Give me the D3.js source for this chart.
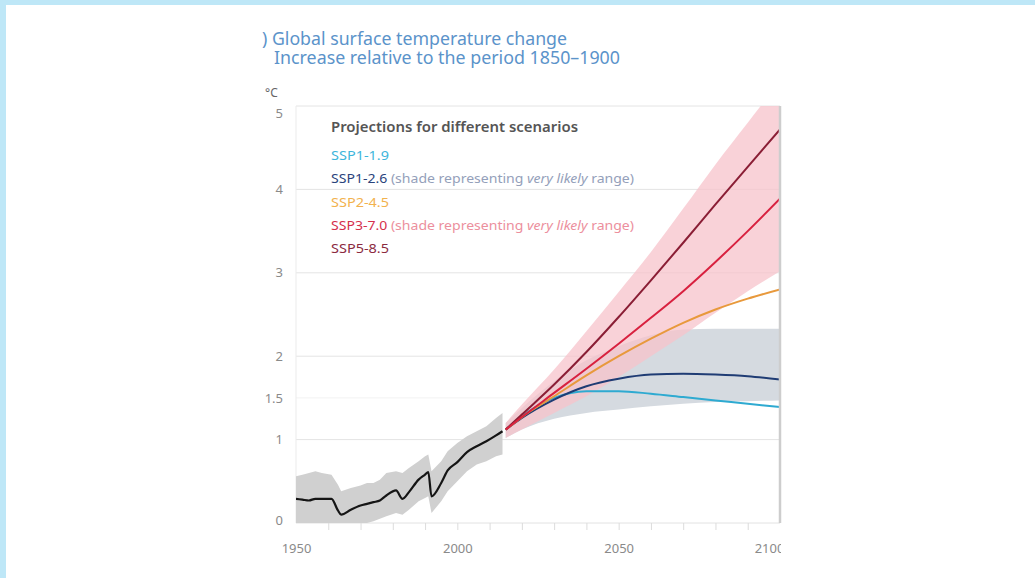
<!DOCTYPE html>
<html>
<head>
<meta charset="utf-8">
<script src="https://cdn.jsdelivr.net/npm/d3@7"></script>
<style>
  html, body { margin: 0; padding: 0; background: #fff; }
  svg { display: block; }
  text { font-family: "Noto Sans", "Open Sans", sans-serif; }
</style>
</head>
<body>
<div id="chart"></div>
<script>
// Observed warming 1950-2014 (black line and grey band)
const histYears = [1950, 1952, 1954, 1956, 1958, 1961, 1963, 1964, 1967, 1970, 1972, 1974, 1976, 1978,
                   1981, 1983, 1985, 1988, 1990, 1991, 1992, 1995, 1997, 2000, 2003, 2006, 2009, 2012, 2014];
const histMean  = [0.29, 0.28, 0.27, 0.29, 0.29, 0.29, 0.15, 0.10, 0.16, 0.21, 0.23, 0.25, 0.27, 0.33,
                   0.39, 0.29, 0.37, 0.52, 0.58, 0.61, 0.32, 0.48, 0.63, 0.73, 0.85, 0.92, 0.98, 1.05, 1.10];
const histLow   = [0.00, 0.00, 0.00, 0.00, 0.00, 0.00, 0.00, 0.00, 0.00, 0.00, 0.00, 0.02, 0.05, 0.08,
                   0.12, 0.10, 0.16, 0.26, 0.30, 0.32, 0.12, 0.26, 0.38, 0.50, 0.62, 0.70, 0.74, 0.80, 0.82];
const histHigh  = [0.56, 0.58, 0.60, 0.62, 0.60, 0.58, 0.46, 0.38, 0.42, 0.45, 0.48, 0.48, 0.52, 0.60,
                   0.62, 0.60, 0.66, 0.74, 0.80, 0.82, 0.62, 0.74, 0.86, 0.96, 1.04, 1.10, 1.16, 1.26, 1.32];

// Scenario projections 2015-2100
const projYears = [2015, 2020, 2030, 2040, 2050, 2060, 2070, 2080, 2090, 2100];
const ssp119 = [1.12, 1.28, 1.50, 1.58, 1.58, 1.55, 1.51, 1.47, 1.43, 1.39];
const ssp126 = [1.12, 1.26, 1.48, 1.64, 1.73, 1.78, 1.79, 1.78, 1.76, 1.72];
const ssp245 = [1.12, 1.27, 1.52, 1.77, 2.00, 2.21, 2.40, 2.56, 2.69, 2.80];
const ssp370 = [1.12, 1.27, 1.56, 1.85, 2.15, 2.46, 2.78, 3.13, 3.50, 3.89];
const ssp585 = [1.12, 1.30, 1.66, 2.05, 2.47, 2.91, 3.36, 3.82, 4.27, 4.72];
const ssp126Low  = [1.02, 1.12, 1.25, 1.32, 1.36, 1.40, 1.43, 1.45, 1.46, 1.47];
const ssp126High = [1.20, 1.38, 1.70, 1.95, 2.12, 2.25, 2.32, 2.33, 2.33, 2.33];
const ssp370Low  = [1.02, 1.12, 1.32, 1.52, 1.75, 2.00, 2.25, 2.52, 2.78, 3.02];
const ssp370High = [1.20, 1.42, 1.84, 2.30, 2.77, 3.25, 3.77, 4.30, 4.80, 5.30];

const yTicks = [0, 1, 1.5, 2, 3, 4, 5];
const xTicks = [1950, 2000, 2050, 2100];
const xMinorTicks = [1960, 1970, 1980, 1990, 2000, 2010, 2020, 2030, 2040, 2050, 2060, 2070, 2080, 2090];

const titleLines = [') Global surface temperature change', 'Increase relative to the period 1850\u20131900'];
const legendTitle = 'Projections for different scenarios';
const scenarioNames = ['SSP1-1.9', 'SSP1-2.6', 'SSP2-4.5', 'SSP3-7.0', 'SSP5-8.5'];
const scenarioNotes = ['', 'shade', '', 'shade', ''];

const W = 1035, H = 578;
const svg = d3.select('#chart').append('svg').attr('width', W).attr('height', H);

// light blue page frame (top and left)
svg.append('rect').attr('x', 0).attr('y', 0).attr('width', W).attr('height', 5).attr('fill', '#bee7f7');
svg.append('rect').attr('x', 0).attr('y', 0).attr('width', 6).attr('height', H).attr('fill', '#bee7f7');

const x = d3.scaleLinear().domain([1950, 2100]).range([296, 780]);
const y = d3.scaleLinear().domain([0, 5]).range([523, 106]);

svg.append('defs').append('clipPath').attr('id', 'plotClip')
  .append('rect').attr('x', x(1950)).attr('y', y(5)).attr('width', x(2100) - x(1950)).attr('height', y(0) - y(5));
svg.select('defs').append('clipPath').attr('id', 'labelClip')
  .append('rect').attr('x', 0).attr('y', 0).attr('width', x(2100) + 1).attr('height', H);

// gridlines
const grid = svg.append('g');
grid.selectAll('line.h').data([1, 2, 3, 4, 5]).enter().append('line')
  .attr('x1', x(1950)).attr('x2', x(2100)).attr('y1', d => y(d)).attr('y2', d => y(d))
  .attr('stroke', '#e4e4e4').attr('stroke-width', 1);
grid.append('line').attr('x1', x(1950)).attr('x2', x(2100)).attr('y1', y(1.5)).attr('y2', y(1.5))
  .attr('stroke', '#f2f2f2');
grid.append('line').attr('x1', x(1950)).attr('x2', x(1950)).attr('y1', y(5)).attr('y2', y(0))
  .attr('stroke', '#ebebeb');
grid.append('line').attr('x1', x(1950)).attr('x2', x(2100)).attr('y1', y(0)).attr('y2', y(0))
  .attr('stroke', '#e2e2e2');

const plot = svg.append('g').attr('clip-path', 'url(#plotClip)');

const hist = histYears.map((yr, i) => ({ yr, m: histMean[i], lo: histLow[i], hi: histHigh[i] }));
const proj = projYears.map((yr, i) => ({
  yr, s119: ssp119[i], s126: ssp126[i], s245: ssp245[i], s370: ssp370[i], s585: ssp585[i],
  lo126: ssp126Low[i], hi126: ssp126High[i], lo370: ssp370Low[i], hi370: ssp370High[i]
}));

const area = (lo, hi) => d3.area().x(d => x(d.yr)).y0(d => y(d[lo])).y1(d => y(d[hi]));
const line = key => d3.line().curve(d3.curveMonotoneX).x(d => x(d.yr)).y(d => y(d[key]));

plot.append('path').datum(hist).attr('d', area('lo', 'hi')).attr('fill', '#d0d0d0');
plot.append('path').datum(proj).attr('d', area('lo126', 'hi126').curve(d3.curveMonotoneX)).attr('fill', '#d5dae0');
plot.append('path').datum(proj).attr('d', area('lo370', 'hi370').curve(d3.curveMonotoneX))
  .attr('fill', '#f7c3cb').attr('fill-opacity', 0.75);

plot.append('path').datum(hist).attr('d', d3.line().curve(d3.curveMonotoneX).x(d => x(d.yr)).y(d => y(d.m)))
  .attr('fill', 'none').attr('stroke', '#151515').attr('stroke-width', 2.2).attr('stroke-linejoin', 'round');

const lineColors = { s119: '#2eaad1', s126: '#1f3c74', s245: '#e8993c', s585: '#8a1e35', s370: '#d8213f' };
Object.keys(lineColors).forEach(k => {
  plot.append('path').datum(proj).attr('d', line(k))
    .attr('fill', 'none').attr('stroke', lineColors[k]).attr('stroke-width', 2);
});

// right edge bar
svg.append('line').attr('x1', x(2100)).attr('x2', x(2100)).attr('y1', y(5)).attr('y2', y(0))
  .attr('stroke', '#cdcdcd').attr('stroke-width', 2.5);

// y axis labels
const yAxis = svg.append('g').attr('transform', `translate(${x(1950) - 13},0)`)
  .call(d3.axisLeft(y).tickValues(yTicks).tickSize(0).tickPadding(0).tickFormat(d3.format('')));
yAxis.select('.domain').remove();
yAxis.selectAll('text').attr('fill', '#8a8a8a').style('font-size', '13px')
  .attr('dy', d => d === 5 ? '0.9em' : (d === 0 ? '0.1em' : '0.32em'));

// x minor ticks
const minor = svg.append('g').attr('transform', `translate(0,${y(0)})`)
  .call(d3.axisBottom(x).tickValues(xMinorTicks).tickSize(7).tickFormat(''));
minor.select('.domain').remove();
minor.selectAll('line').attr('stroke', '#dcdcdc');

// x labels (the last one is cut by the chart edge)
const xAxis = svg.append('g').attr('clip-path', 'url(#labelClip)').append('g')
  .attr('transform', `translate(0,${y(0)})`)
  .call(d3.axisBottom(x).tickValues(xTicks).tickSize(0).tickPadding(21).tickFormat(d3.format('d')));
xAxis.select('.domain').remove();
xAxis.selectAll('text').attr('fill', '#8a8a8a').style('font-size', '13px')
  .attr('dx', d => d === 2100 ? -11 : 0);

// title and unit
svg.append('text').attr('x', 262).attr('y', 45).text(titleLines[0])
  .attr('fill', '#5b93ca').style('font-size', '18.5px')
  .attr('textLength', 305).attr('lengthAdjust', 'spacingAndGlyphs');
svg.append('text').attr('x', 274).attr('y', 64).text(titleLines[1])
  .attr('fill', '#5b93ca').style('font-size', '18.5px')
  .attr('textLength', 346).attr('lengthAdjust', 'spacingAndGlyphs');
svg.append('text').attr('x', 265).attr('y', 97).text('\u00b0C')
  .attr('fill', '#666').style('font-size', '12px');

// legend
svg.append('text').attr('x', 331).attr('y', 132).text(legendTitle)
  .attr('fill', '#555').style('font-size', '14px').style('font-weight', 600)
  .attr('textLength', 247).attr('lengthAdjust', 'spacingAndGlyphs');

const nameColors = ['#3db5db', '#2a437c', '#f2b24e', '#d52f4c', '#8b2a3f'];
const noteColors = ['', '#94a0ba', '', '#ec8f9d', ''];
scenarioNames.forEach((name, i) => {
  const t = svg.append('text').attr('x', 331).attr('y', 160 + i * 23.3)
    .style('font-size', '13px').attr('lengthAdjust', 'spacingAndGlyphs');
  t.append('tspan').attr('fill', nameColors[i]).text(name);
  if (scenarioNotes[i]) {
    const n = t.append('tspan').attr('fill', noteColors[i]);
    n.append('tspan').text(' (shade representing ');
    n.append('tspan').style('font-style', 'italic').text('very likely');
    n.append('tspan').text(' range)');
    t.attr('textLength', 303);
  } else {
    t.attr('textLength', 58);
  }
});
</script>
</body>
</html>
